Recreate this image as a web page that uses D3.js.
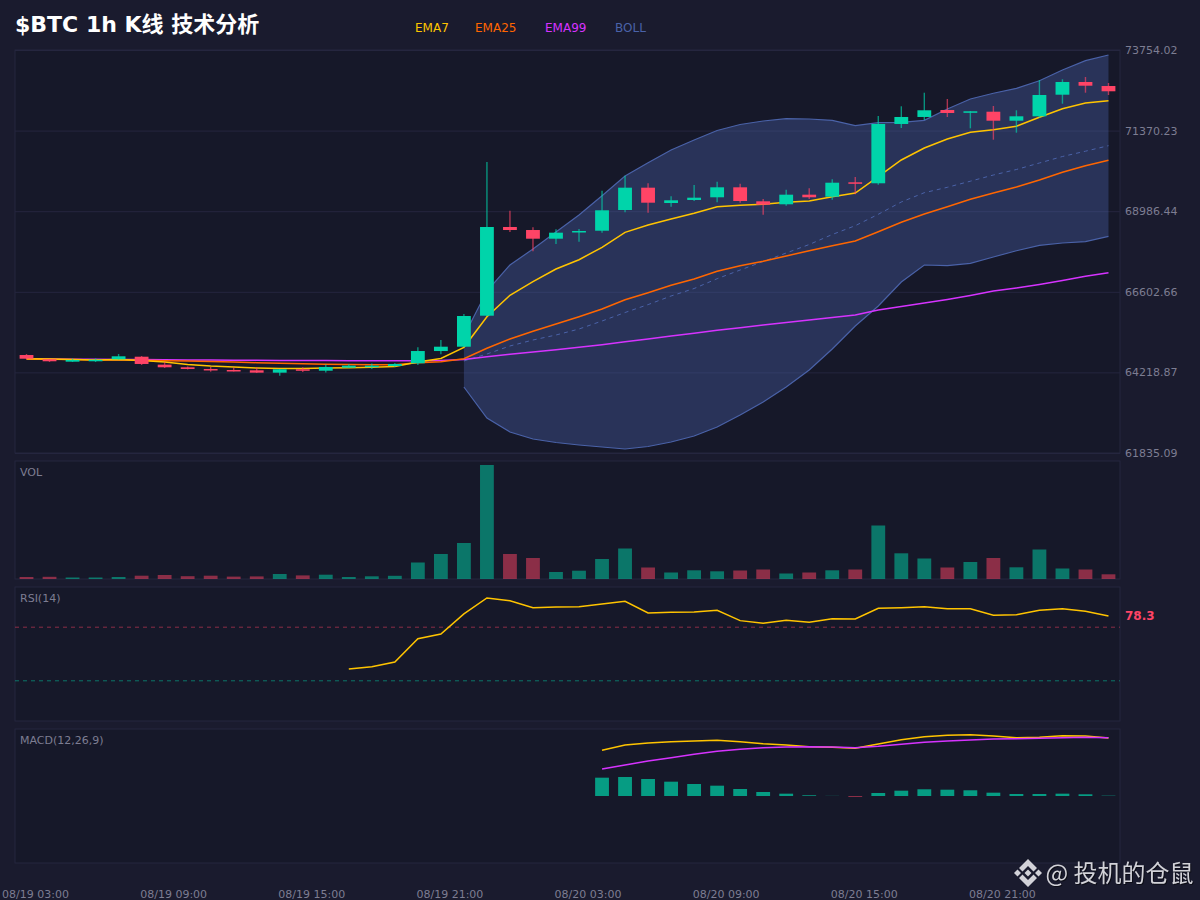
<!DOCTYPE html>
<html>
<head>
<meta charset="utf-8">
<script src="https://d3js.org/d3.v7.min.js"></script>
<style>
    html, body { margin: 0; padding: 0; background: #1a1b2e; }
    svg { display: block; }
    text { font-family: "DejaVu Sans", "Noto Sans CJK SC", sans-serif; }
</style>
</head>
<body>
<svg id="chart" width="1200" height="900"></svg>
<script>
const priceTicks = [61835.09, 64218.87, 66602.66, 68986.44, 71370.23, 73754.02];
const timeLabels = ["08/19 03:00", "08/19 09:00", "08/19 15:00", "08/19 21:00", "08/20 03:00", "08/20 09:00", "08/20 15:00", "08/20 21:00"];
const timeIndexes = [0, 6, 12, 18, 24, 30, 36, 42];

const opens = [64733, 64607, 64536, 64562, 64607, 64683, 64448, 64370, 64320, 64290, 64281, 64211, 64311, 64269, 64358, 64379,
    64408, 64488, 64851, 64979, 65896, 68519, 68430, 68173, 68363, 68409, 69022, 69682, 69229, 69318, 69398, 69693,
    69279, 69191, 69475, 69415, 69841, 69812, 71566, 71773, 71980, 71900, 71929, 71663, 71793, 72432, 72808, 72689];
const closes = [64624, 64548, 64586, 64592, 64695, 64468, 64370, 64320, 64290, 64261, 64211, 64311, 64269, 64379, 64418, 64418,
    64468, 64851, 64979, 65887, 68519, 68430, 68173, 68351, 68401, 69013, 69682, 69238, 69309, 69386, 69693, 69288,
    69179, 69475, 69398, 69829, 69800, 71566, 71773, 71971, 71891, 71941, 71663, 71793, 72423, 72808, 72698, 72533];
const highs = [64763, 64616, 64630, 64630, 64763, 64704, 64527, 64394, 64379, 64364, 64364, 64320, 64370, 64453, 64468, 64483,
    64497, 64961, 65177, 65946, 70442, 69001, 68510, 68451, 68460, 69593, 70037, 69812, 69427, 69761, 69859, 69800,
    69347, 69622, 69664, 69930, 69998, 71802, 72089, 72491, 72305, 71950, 72098, 71971, 72867, 72888, 72956, 72778];
const lows = [64616, 64527, 64527, 64527, 64601, 64438, 64349, 64305, 64240, 64246, 64201, 64122, 64231, 64216, 64349, 64320,
    64379, 64438, 64754, 64970, 65887, 68371, 67800, 68017, 68085, 68351, 68954, 68942, 69120, 69288, 69250, 69238,
    68883, 69149, 69347, 69327, 69486, 69770, 71447, 71684, 71773, 71438, 71101, 71308, 71752, 72166, 72491, 72423];

const ema7 = [64624, 64616, 64601, 64586, 64601, 64571, 64527, 64453, 64408, 64379, 64349, 64334, 64334, 64349, 64358, 64370,
    64394, 64527, 64630, 64961, 65866, 66499, 66901, 67277, 67552, 67919, 68362, 68578, 68756, 68924, 69120, 69161,
    69191, 69250, 69288, 69415, 69525, 70007, 70501, 70856, 71122, 71320, 71397, 71497, 71764, 72018, 72187, 72255];
const ema25 = [64616, 64607, 64601, 64586, 64586, 64577, 64565, 64556, 64541, 64527, 64506, 64488, 64473, 64461, 64453, 64447,
    64447, 64506, 64536, 64624, 64932, 65207, 65435, 65650, 65866, 66094, 66369, 66576, 66795, 66981, 67209, 67375,
    67505, 67662, 67818, 67966, 68105, 68380, 68658, 68904, 69120, 69339, 69525, 69702, 69909, 70137, 70332, 70492];
const ema99 = [64621, 64616, 64609, 64607, 64604, 64598, 64592, 64586, 64583, 64580, 64577, 64574, 64571, 64568, 64565, 64565,
    64562, 64562, 64568, 64601, 64683, 64754, 64822, 64890, 64961, 65038, 65127, 65207, 65296, 65375, 65464, 65541,
    65621, 65695, 65769, 65843, 65917, 66064, 66168, 66271, 66375, 66493, 66626, 66715, 66819, 66937, 67061, 67168];

// bollinger bands only start at candle 19
const bollStart = 19;
const bollUpper = [65296, 66626, 67395, 67868, 68371, 68874, 69445, 70028, 70421, 70797, 71092, 71373, 71551, 71654, 71722,
    71713, 71675, 71515, 71604, 71616, 71675, 72009, 72305, 72474, 72621, 72846, 73163, 73438, 73606];
const bollMid = [64556, 64763, 65000, 65177, 65325, 65502, 65739, 65990, 66224, 66479, 66700, 66990, 67247, 67498, 67750,
    68001, 68297, 68558, 68895, 69259, 69534, 69693, 69874, 70057, 70220, 70412, 70604, 70761, 70924];
const bollLower = [63787, 62870, 62456, 62249, 62146, 62072, 62012, 61953, 62027, 62160, 62338, 62604, 62959, 63343, 63787,
    64290, 64911, 65591, 66183, 66893, 67395, 67375, 67446, 67632, 67818, 67978, 68046, 68085, 68244];

const volumes = [20, 22, 15, 15, 20, 33, 40, 28, 33, 24, 26, 50, 36, 43, 20, 27, 32, 165, 250, 360, 1140, 250, 210, 70, 83, 200,
    305, 115, 65, 87, 77, 85, 95, 55, 65, 87, 95, 535, 257, 205, 115, 170, 210, 117, 295, 105, 95, 47];

// rsi starts at candle 14
const rsiStart = 14;
const rsi = [38.8, 40.5, 44, 61.4, 64.9, 79.9, 91.8, 89.8, 84.6, 85.1, 85.3, 87.3, 89.3, 80.6, 81.1, 81.3, 82.6, 74.9, 72.9,
    75.1, 73.7, 76.3, 76.1, 84.1, 84.6, 85.3, 83.8, 83.8, 78.9, 79.3, 82.6, 83.8, 81.9, 78.3];

// macd starts at candle 25
const macdStart = 25;
const macd = [1142, 1275, 1325, 1358, 1375, 1392, 1358, 1308, 1275, 1232, 1218, 1192, 1300, 1408, 1482, 1518, 1532, 1500,
    1458, 1468, 1508, 1500, 1450];
const signal = [675, 775, 875, 958, 1042, 1118, 1168, 1208, 1225, 1232, 1225, 1208, 1242, 1292, 1342, 1375, 1400, 1425,
    1432, 1442, 1458, 1468, 1458];
const hist = [458, 475, 425, 358, 300, 258, 175, 100, 58, 18, 3, -18, 75, 133, 168, 158, 143, 83, 50, 50, 58, 43, 8];

const upColor = "#00d4aa";
const downColor = "#ff4466";
const yellow = "#ffc400";
const orange = "#ff6600";
const purple = "#d633ff";
const bollColor = "#4a62a8";
const textColor = "#7d7d92";
const gridColor = "#25263f";
const panelColor = "#161829";

const left = 15, right = 1120;
const svg = d3.select("#chart");
const indexes = d3.range(opens.length);

// all panels share one band scale
const x = d3.scaleBand().domain(indexes).range([left, right]).paddingInner(0.4).paddingOuter(0.2);
const cx = i => x(i) + x.bandwidth() / 2;

const yPrice = d3.scaleLinear().domain([61835.09, 73754.02]).range([453, 50]);
const yVol = d3.scaleLinear().domain([0, 1180]).range([579, 461]);
const yRsi = d3.scaleLinear().domain([0, 100]).range([721, 587]);
const yMacd = d3.scaleLinear().domain([-1675, 1675]).range([863, 729]);

function panel(scale, label) {
    const [bottom, top] = scale.range();
    svg.append("rect")
        .attr("x", left).attr("y", top)
        .attr("width", right - left).attr("height", bottom - top)
        .attr("fill", panelColor)
        .attr("stroke", gridColor);
    if (label) {
        svg.append("text")
            .attr("x", left + 5).attr("y", top + 15)
            .attr("fill", textColor)
            .attr("font-size", 11)
            .text(label);
    }
}

function drawLine(g, values, start, scale, color, width, dash) {
    const line = d3.line()
        .x((d, i) => cx(i + start))
        .y(d => scale(d));
    g.append("path")
        .datum(values)
        .attr("d", line)
        .attr("fill", "none")
        .attr("stroke", color)
        .attr("stroke-width", width)
        .attr("stroke-dasharray", dash || null);
}

panel(yPrice);
panel(yVol, "VOL");
panel(yRsi, "RSI(14)");
panel(yMacd, "MACD(12,26,9)");

// price grid and labels
svg.append("g")
    .attr("transform", `translate(${left},0)`)
    .call(d3.axisRight(yPrice).tickValues(priceTicks).tickSize(right - left).tickFormat(""))
    .call(g => g.select(".domain").remove())
    .selectAll("line").attr("stroke", gridColor).attr("stroke-width", 1);

svg.append("g")
    .attr("transform", `translate(${right},0)`)
    .call(d3.axisRight(yPrice).tickValues(priceTicks).tickSize(0).tickPadding(5).tickFormat(d => d.toFixed(2)))
    .call(g => g.select(".domain").remove())
    .selectAll("text")
    .attr("fill", textColor)
    .style("font-size", "11px");

// time labels
const timeScale = d3.scalePoint().domain(timeLabels).range([cx(timeIndexes[0]), cx(timeIndexes[7])]);
svg.append("g")
    .attr("transform", "translate(8.5,885)")
    .call(d3.axisBottom(timeScale).tickSize(0).tickPadding(5))
    .call(g => g.select(".domain").remove())
    .selectAll("text")
    .attr("fill", textColor)
    .style("font-size", "11px");

// bollinger band
const bandIdx = bollUpper.map((d, i) => i);
const area = d3.area()
    .x(i => cx(i + bollStart))
    .y0(i => yPrice(bollLower[i]))
    .y1(i => yPrice(bollUpper[i]));
svg.append("path")
    .datum(bandIdx)
    .attr("d", area)
    .attr("fill", bollColor)
    .attr("fill-opacity", 0.38);

const lines = svg.append("g");
drawLine(lines, bollUpper, bollStart, yPrice, bollColor, 1.2);
drawLine(lines, bollLower, bollStart, yPrice, bollColor, 1.2);
drawLine(lines, bollMid, bollStart, yPrice, bollColor, 1, "4,4");
drawLine(lines, ema99, 0, yPrice, purple, 1.5);
drawLine(lines, ema25, 0, yPrice, orange, 1.5);
drawLine(lines, ema7, 0, yPrice, yellow, 1.5);

// candles
const candleColor = i => closes[i] >= opens[i] ? upColor : downColor;
const candles = svg.append("g");
candles.selectAll(".wick")
    .data(indexes)
    .enter().append("line")
    .attr("class", "wick")
    .attr("x1", cx).attr("x2", cx)
    .attr("y1", i => yPrice(highs[i]))
    .attr("y2", i => yPrice(lows[i]))
    .attr("stroke", candleColor)
    .attr("stroke-width", 1.4)
    .attr("stroke-opacity", 0.65);
candles.selectAll(".body")
    .data(indexes)
    .enter().append("rect")
    .attr("class", "body")
    .attr("x", i => x(i))
    .attr("width", x.bandwidth())
    .attr("y", i => yPrice(Math.max(opens[i], closes[i])))
    .attr("height", i => Math.max(1.5, Math.abs(yPrice(opens[i]) - yPrice(closes[i]))))
    .attr("fill", candleColor);

// volume
svg.append("g").selectAll("rect")
    .data(indexes)
    .enter().append("rect")
    .attr("x", i => x(i))
    .attr("width", x.bandwidth())
    .attr("y", i => yVol(volumes[i]))
    .attr("height", i => yVol(0) - yVol(volumes[i]))
    .attr("fill", candleColor)
    .attr("fill-opacity", 0.5);

// rsi
const rsiGuides = svg.append("g");
drawLine(rsiGuides, [70, 70], 0, yRsi, downColor, 1, "4,4");
drawLine(rsiGuides, [30, 30], 0, yRsi, upColor, 1, "4,4");
rsiGuides.selectAll("path")
    .attr("d", function(d) { return `M${left},${yRsi(d[0])}H${right}`; })
    .attr("stroke-opacity", 0.5);
drawLine(svg, rsi, rsiStart, yRsi, yellow, 1.5);
svg.append("text")
    .attr("x", 1125).attr("y", yRsi(rsi[rsi.length - 1]))
    .attr("dy", "0.35em")
    .attr("fill", downColor)
    .attr("font-size", 12)
    .attr("font-weight", "bold")
    .text(rsi[rsi.length - 1]);

// macd
svg.append("g").selectAll("rect")
    .data(hist)
    .enter().append("rect")
    .attr("x", (d, i) => x(i + macdStart))
    .attr("width", x.bandwidth())
    .attr("y", d => yMacd(Math.max(d, 0)))
    .attr("height", d => Math.abs(yMacd(d) - yMacd(0)))
    .attr("fill", d => d >= 0 ? upColor : downColor)
    .attr("fill-opacity", 0.7);
drawLine(svg, macd, macdStart, yMacd, yellow, 1.5);
drawLine(svg, signal, macdStart, yMacd, purple, 1.5);

// title and legend
svg.append("text")
    .attr("x", 15).attr("y", 32)
    .attr("fill", "#ffffff")
    .attr("font-size", 22)
    .attr("font-weight", "bold")
    .text("$BTC 1h K线 技术分析");

const legendNames = ["EMA7", "EMA25", "EMA99", "BOLL"];
const legendColors = [yellow, orange, purple, bollColor];
const legendX = [415, 475, 545, 615];
svg.append("g").selectAll("text")
    .data(legendNames)
    .enter().append("text")
    .attr("x", (d, i) => legendX[i])
    .attr("y", 32)
    .attr("fill", (d, i) => legendColors[i])
    .attr("font-size", 12)
    .text(d => d);

// watermark
const mark = svg.append("g").attr("transform", "translate(1028,873)").attr("fill", "#d2d2d8");
mark.selectAll("path")
    .data([
        "M0,-14L9,-5L5.5,-1.5L0,-7L-5.5,-1.5L-9,-5Z",
        "M0,14L9,5L5.5,1.5L0,7L-5.5,1.5L-9,5Z",
        "M-14,0L-10.5,-3.5L-7,0L-10.5,3.5Z",
        "M14,0L10.5,-3.5L7,0L10.5,3.5Z",
        "M0,-3.5L3.5,0L0,3.5L-3.5,0Z"
    ])
    .enter().append("path")
    .attr("d", d => d);
svg.append("text")
    .attr("x", 1045.5).attr("y", 882)
    .attr("fill", "#d2d2d8")
    .attr("font-size", 24)
    .style("font-family", '"Noto Sans CJK SC", sans-serif')
    .style("filter", "drop-shadow(1px 1px 0 rgba(0,0,0,0.5))")
    .text("@ 投机的仓鼠");
</script>
</body>
</html>
